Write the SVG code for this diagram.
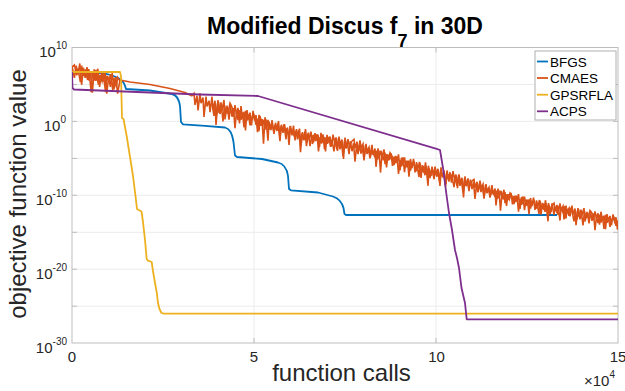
<svg xmlns="http://www.w3.org/2000/svg" xmlns:xlink="http://www.w3.org/1999/xlink" width="625" height="391" viewBox="0 0 625 391">
<style>
text{font-family:"Liberation Sans",Arial,Helvetica,sans-serif;fill:#262626}
.tick{font-size:15px}
.sup{font-size:10px}
.grid{stroke:#ececec;stroke-width:1;fill:none}
.box{stroke:#bdbdbd;stroke-width:1;fill:none}
.tk{stroke:#bdbdbd;stroke-width:1}
.ln{fill:none;stroke-width:1.8;stroke-linejoin:round}
.noise{fill:none;stroke:#D95319;stroke-width:1.6;vector-effect:non-scaling-stroke;stroke-linejoin:miter}
.bfgs{stroke:#0072BD}
.cmaes{stroke:#D95319}
.gps{stroke:#EDB120}
.acps{stroke:#7E2F8E}
.leg{font-size:13.5px;fill:#000}
</style>
<defs>
<clipPath id="plot"><rect x="72" y="47.5" width="546" height="295.5"/></clipPath>
<path id="nA" class="noise" d="M0,0 L2,-2 L3,5 L5,-1 L6,8 L8,-3 L9,3 L11,-1 L12,11 L14,-2 L15,4 L17,0 L18,7 L20,-3 L21,5 L23,-1 L24,14 L26,-2 L27,6 L29,-1 L30,4 L32,-3 L33,9 L35,0 L36,5 L38,-2 L40,0"/>
<path id="nB" class="noise" d="M0,0 L1.5,6 L3,-2 L4.5,4 L6,-1 L7.5,9 L9,-3 L10.5,5 L12,0 L13.5,12 L15,-2 L16.5,4 L18,-1 L19.5,7 L21,-3 L22.5,3 L24,-1 L25.5,10 L27,-2 L28.5,5 L30,0 L31.5,16 L33,-2 L34.5,6 L36,-1 L37.5,4 L40,0"/>
<path id="nC" class="noise" d="M0,0 L2,7 L3.5,-1 L5,4 L6.5,-3 L8,10 L9.5,-1 L11,5 L12.5,-2 L14,6 L15.5,0 L17,13 L18.5,-2 L20,5 L21.5,-3 L23,8 L24.5,-1 L26,4 L27.5,-2 L29,11 L30.5,0 L32,6 L33.5,-3 L35,7 L36.5,-1 L38,9 L40,0"/>
</defs>
<rect width="625" height="391" fill="#ffffff"/>

<g id="axes">
<rect x="72" y="47.5" width="546" height="295.5" fill="#ffffff"/>
<g class="grid">
<line x1="254" y1="47.5" x2="254" y2="343"/>
<line x1="436" y1="47.5" x2="436" y2="343"/>
<line x1="72" y1="84.5" x2="618" y2="84.5"/>
<line x1="72" y1="121.4" x2="618" y2="121.4"/>
<line x1="72" y1="158.4" x2="618" y2="158.4"/>
<line x1="72" y1="195.3" x2="618" y2="195.3"/>
<line x1="72" y1="232.3" x2="618" y2="232.3"/>
<line x1="72" y1="269.2" x2="618" y2="269.2"/>
<line x1="72" y1="306.2" x2="618" y2="306.2"/>
</g>
<rect class="box" x="72" y="47.5" width="546" height="295.5"/>
<g class="tk">
<line x1="254" y1="343" x2="254" y2="338"/><line x1="436" y1="343" x2="436" y2="338"/>
<line x1="254" y1="47.5" x2="254" y2="52.5"/><line x1="436" y1="47.5" x2="436" y2="52.5"/>
<line x1="72" y1="84.5" x2="77" y2="84.5"/><line x1="72" y1="121.4" x2="77" y2="121.4"/><line x1="72" y1="158.4" x2="77" y2="158.4"/><line x1="72" y1="195.3" x2="77" y2="195.3"/><line x1="72" y1="232.3" x2="77" y2="232.3"/><line x1="72" y1="269.2" x2="77" y2="269.2"/><line x1="72" y1="306.2" x2="77" y2="306.2"/>
<line x1="618" y1="84.5" x2="613" y2="84.5"/><line x1="618" y1="121.4" x2="613" y2="121.4"/><line x1="618" y1="158.4" x2="613" y2="158.4"/><line x1="618" y1="195.3" x2="613" y2="195.3"/><line x1="618" y1="232.3" x2="613" y2="232.3"/><line x1="618" y1="269.2" x2="613" y2="269.2"/><line x1="618" y1="306.2" x2="613" y2="306.2"/>
</g>
</g>

<g id="tick-labels">
<text class="tick" x="72" y="362" text-anchor="middle">0</text>
<text class="tick" x="254" y="362" text-anchor="middle">5</text>
<text class="tick" x="436.5" y="362" text-anchor="middle">10</text>
<text class="tick" x="618" y="362" text-anchor="middle">15</text>
<text class="tick" x="584" y="386">×10<tspan class="sup" dy="-8">4</tspan></text>
<text class="tick" x="67" y="57" text-anchor="end">10<tspan class="sup" dy="-8">10</tspan></text>
<text class="tick" x="66" y="131" text-anchor="end">10<tspan class="sup" dy="-8">0</tspan></text>
<text class="tick" x="67" y="205" text-anchor="end">10<tspan class="sup" dy="-8">-10</tspan></text>
<text class="tick" x="67" y="279" text-anchor="end">10<tspan class="sup" dy="-8">-20</tspan></text>
<text class="tick" x="67" y="352.5" text-anchor="end">10<tspan class="sup" dy="-8">-30</tspan></text>
</g>

<g id="title"><text x="345" y="34" text-anchor="middle" font-weight="bold" font-size="23" style="fill:#000">Modified Discus f<tspan dy="13" font-size="18">7</tspan><tspan dy="-13"> in 30D</tspan></text></g>
<g id="xlabel"><text x="341.5" y="381" text-anchor="middle" font-size="24">function calls</text></g>
<g id="ylabel"><text transform="translate(26,194) rotate(-90)" x="0" y="0" text-anchor="middle" font-size="24">objective function value</text></g>

<g id="curves" clip-path="url(#plot)">
<g id="BFGS">
<path class="ln bfgs" d="M72,72.5 L98,72.8 C108,73.5 116,76 121,80 C124,82 125,85 126,89 L150,90.5 L172,94 C177,95 179,99 180,106 L181,122 L183,124.3 L205,125.8 L225,127.5 C230,129 232,133 233.5,142 L235,155.5 L237,157 L262,159 L278,162.5 C284,164 287,168 288,176 L289,189 L291,190.3 L318,192.5 L333,196.5 C339,198.5 342,202 343.5,208 L344.5,214 L346,215 L557,215"/>
</g>
<g id="CMAES">
<use xlink:href="#nC" href="#nC" transform="matrix(1.2,0.35,0,1.6,72,66)"/>
<use xlink:href="#nA" href="#nA" transform="matrix(-1.2,-0.35,0,1.4,120,81)"/>
<path class="ln cmaes" style="stroke-width:1.6" d="M120,80 L130,82 L150,84.5 L160,86.5 L170,88.5 L185,92.5 L192,96"/>
<use xlink:href="#nA" href="#nA" transform="matrix(1,0.275,0,1.6,192,96)"/>
<use xlink:href="#nB" href="#nB" transform="matrix(1,0.4,0,1.5,232,107)"/>
<use xlink:href="#nC" href="#nC" transform="matrix(1,0.3,0,1.3,272,123)"/>
<use xlink:href="#nB" href="#nB" transform="matrix(1,0.15,0,1.2,312,135)"/>
<use xlink:href="#nA" href="#nA" transform="matrix(1,0.375,0,1.2,352,141)"/>
<use xlink:href="#nC" href="#nC" transform="matrix(1,0.3,0,1.2,392,156)"/>
<use xlink:href="#nB" href="#nB" transform="matrix(1,0.325,0,1.2,432,168)"/>
<use xlink:href="#nA" href="#nA" transform="matrix(1,0.375,0,1.1,472,181)"/>
<use xlink:href="#nC" href="#nC" transform="matrix(1,0.225,0,1.1,512,196)"/>
<use xlink:href="#nA" href="#nA" transform="matrix(1,0.2,0,1.1,552,205)"/>
<use xlink:href="#nB" href="#nB" transform="matrix(1,0.225,0,1.1,592,213)"/>
<use xlink:href="#nC" href="#nC" transform="matrix(-1,-0.3375,0,1.3,252,117)"/>
<use xlink:href="#nA" href="#nA" transform="matrix(-1,-0.35,0,1.3,292,131)"/>
<use xlink:href="#nB" href="#nB" transform="matrix(-1,-0.225,0,1.2,332,140)"/>
<use xlink:href="#nC" href="#nC" transform="matrix(-1,-0.2625,0,1.2,372,150.5)"/>
<use xlink:href="#nB" href="#nB" transform="matrix(-1,-0.3375,0,1.2,412,164)"/>
<use xlink:href="#nA" href="#nA" transform="matrix(-1,-0.3125,0,1.2,452,176.5)"/>
<use xlink:href="#nC" href="#nC" transform="matrix(-1,-0.35,0,1.1,492,190.5)"/>
<use xlink:href="#nB" href="#nB" transform="matrix(-1,-0.3,0,1.1,532,202.5)"/>
<use xlink:href="#nA" href="#nA" transform="matrix(-1,-0.2125,0,1.1,572,211)"/>
<use xlink:href="#nC" href="#nC" transform="matrix(-1,-0.2125,0,1.1,612,219.5)"/>
<use xlink:href="#nA" href="#nA" transform="matrix(-1,-0.225,0,1.1,652,228.5)"/>
</g>
<g id="GPSRFLA">
<path class="ln gps" d="M72,72 L120,72 L121,76 L122,118 L123.5,119 L125,127 L127,138 L130,157 L133,176 L135.5,196 L137,209 L141.5,211.5 L143,222 L145,240 L146.7,259 L148,260.7 L151.7,262 L153,271 L155,283 L156.7,292 L158,303 L159.5,309 L161.5,313 L164,313.7 L618,313.7"/>
</g>
<g id="ACPS">
<path class="ln acps" d="M72,71.7 L72.5,88 L74,89.5 L200,94.5 L258,96 L436.7,148.8 L440,150 L443,168 L446.5,195 L449,213 L452,230 L455,250 L457,258 L459,268 L461.5,288 L465,303 L466.7,319.3 L618,319.3"/>
</g>
</g>

<g id="legend">
<rect x="535" y="51" width="81" height="69" fill="#ffffff" stroke="#b0b0b0" stroke-width="1"/>
<line class="ln bfgs" x1="537" y1="61.5" x2="548" y2="61.5"/>
<text class="leg" x="550" y="66.5">BFGS</text>
<line class="ln cmaes" x1="537" y1="78" x2="548" y2="78"/>
<text class="leg" x="550" y="83">CMAES</text>
<line class="ln gps" x1="537" y1="94.7" x2="548" y2="94.7"/>
<text class="leg" x="550" y="99.7">GPSRFLA</text>
<line class="ln acps" x1="537" y1="111.3" x2="548" y2="111.3"/>
<text class="leg" x="550" y="116.3">ACPS</text>
</g>
</svg>
